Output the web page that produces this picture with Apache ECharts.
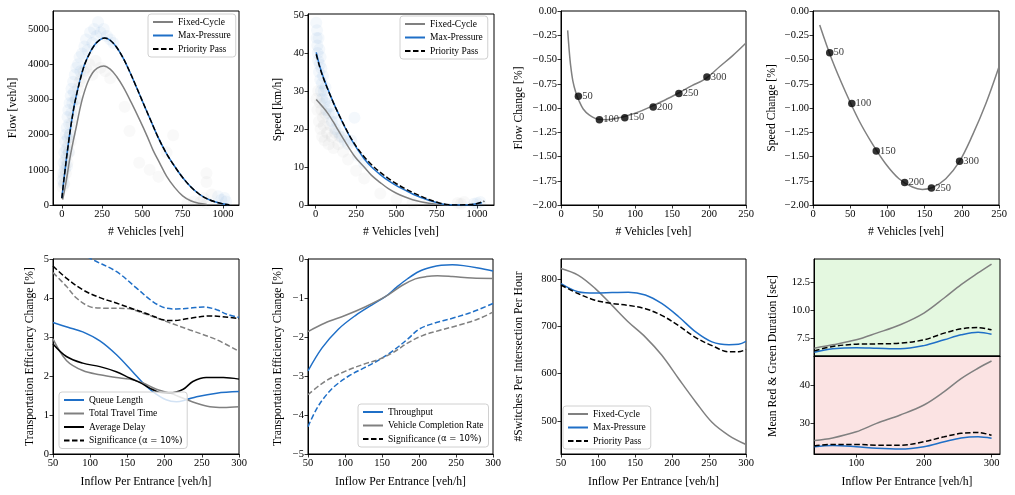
<!DOCTYPE html>
<html>
<head>
<meta charset="utf-8">
<script src="https://cdn.jsdelivr.net/npm/echarts@6/dist/echarts.min.js"></script>
<style>
html,body{margin:0;padding:0;background:#fff;}
#main{width:1015px;height:495px;}
</style>
</head>
<body>
<div id="main"></div>
<script>
// ---- flow vs vehicles ----
var flowFixed = [[5,150],[20,500],[35,900],[50,1330],[70,1800],[90,2230],[110,2680],[130,3060],[160,3480],[190,3750],[220,3890],[260,3950],[300,3860],[340,3650],[380,3360],[430,2920],[484,2410],[530,1950],[566,1560],[610,1170],[650,820],[700,500],[750,260],[800,120],[850,50],[900,15]];
var flowMax = [[0,200],[10,620],[20,1000],[30,1380],[45,1900],[60,2370],[80,2900],[110,3500],[140,3980],[172,4310],[200,4530],[235,4690],[265,4740],[300,4680],[340,4480],[380,4180],[420,3800],[460,3380],[500,2950],[550,2420],[600,1900],[650,1460],[700,1100],[750,780],[800,520],[850,320],[900,180],[950,90],[1000,35],[1035,5]];
var flowPriority = [[0,190],[10,610],[20,990],[30,1370],[45,1890],[60,2360],[80,2890],[110,3490],[140,3970],[172,4300],[200,4520],[235,4690],[265,4740],[300,4680],[340,4480],[380,4180],[420,3800],[460,3380],[500,2950],[550,2420],[600,1900],[650,1460],[700,1100],[750,780],[800,520],[850,320],[900,180],[950,90],[1000,35],[1040,5]];
var flowCloudMax = [[5,700],[8,900],[10,1200],[12,600],[15,1500],[18,1000],[20,1800],[22,1300],[25,2000],[28,1600],[30,2200],[32,1100],[35,2500],[38,1900],[40,2700],[42,1500],[45,2300],[48,2900],[50,2000],[55,3100],[58,2600],[60,3300],[65,2900],[70,3500],[75,3200],[80,3700],[85,3000],[90,3900],[100,4000],[110,4200],[115,3800],[125,4300],[140,4500],[150,4700],[160,4400],[175,4900],[190,4600],[200,5000],[215,4800],[225,5200],[240,4900],[260,5000],[280,4800],[300,4700],[320,4600],[970,250],[990,150],[1010,200],[1020,100]];
var flowCloudFixed = [[5,500],[10,800],[15,600],[20,1100],[25,900],[30,1400],[35,1200],[40,1700],[45,1500],[50,2000],[55,1800],[60,2300],[70,2500],[80,2800],[90,3000],[100,3300],[110,3500],[120,3600],[135,3800],[150,3900],[170,4000],[190,3700],[210,4100],[240,3900],[270,3800],[300,3600],[390,2790],[420,2100],[545,1000],[480,1200],[691,1980],[600,800],[650,1500],[780,50],[820,100],[860,80],[880,200],[900,50],[898,650],[898,900],[930,300]];

// ---- speed vs vehicles ----
var speedFixed = [[3,27.8],[40,26.0],[77,24.0],[110,21.8],[139,19.7],[180,16.8],[243,12.7],[300,10.0],[346,7.8],[400,5.9],[450,4.3],[500,3.1],[554,2.1],[600,1.4],[658,0.8],[710,0.4],[761,0.15],[824,0.0]];
var speedMax = [[3,40.2],[20,37.3],[40,34.5],[60,32.2],[80,30.0],[110,26.9],[140,24.1],[170,21.4],[200,18.9],[230,16.6],[263,14.4],[300,12.2],[346,10.0],[400,8.0],[450,6.4],[500,5.1],[554,3.9],[600,2.9],[658,1.9],[710,1.1],[761,0.5],[824,0.05],[900,0.0],[970,0.15],[1030,0.6]];
var speedPriority = [[3,39.7],[20,37.0],[40,34.3],[60,32.0],[80,29.9],[110,26.9],[140,24.1],[170,21.5],[200,19.0],[230,16.8],[263,14.7],[300,12.7],[346,10.6],[400,8.6],[450,7.0],[500,5.6],[554,4.3],[600,3.3],[658,2.2],[710,1.3],[761,0.6],[824,0.1],[880,0.0],[950,0.1],[1000,0.4],[1045,1.0]];
var speedCloudMax = [[3,48],[5,44],[8,46],[10,42],[12,40],[15,38],[18,44],[20,35],[22,41],[25,37],[28,33],[30,39],[32,30],[35,36],[38,32],[40,28],[45,34],[50,30],[55,27],[60,31],[65,25],[70,28],[80,24],[90,26],[100,22],[110,24],[120,20],[130,22],[140,19],[160,18],[180,17],[200,16],[220,17],[240,23],[260,13],[300,11],[980,0.3],[1000,0.5],[1020,0.8]];
var speedCloudFixed = [[5,28],[10,25],[15,30],[20,22],[25,27],[30,20],[35,25],[40,18],[45,23],[50,21],[55,17],[60,24],[70,19],[80,16],[90,21],[100,18],[110,15],[120,19],[140,16],[150,18],[170,14],[200,12],[250,9],[300,7],[400,3],[500,1.5],[600,0.5],[700,0.3],[880,0.5],[900,0.3],[920,0.8]];

// ---- relative change (labels = inflow per entrance) ----
var inflowLabels = ['50','100','150','200','250','300'];
var flowChangeCurve = [[9,-0.20],[11,-0.40],[13,-0.56],[16,-0.72],[20,-0.84],[24,-0.92],[30,-1.01],[38,-1.07],[50,-1.115],[62,-1.12],[75,-1.105],[87,-1.085],[105,-1.04],[123,-0.98],[140,-0.92],[159,-0.845],[177,-0.77],[195,-0.70],[215,-0.57],[232,-0.46],[250,-0.33]];
var flowChangePts = [[23.5,-0.88],[51.9,-1.12],[86.2,-1.10],[124.6,-0.99],[159.3,-0.85],[197.2,-0.68]];
var speedChangeCurve = [[9,-0.145],[25.6,-0.506],[43.6,-0.833],[61.6,-1.126],[79.6,-1.367],[97.6,-1.574],[115.6,-1.729],[133.6,-1.815],[147,-1.839],[160.5,-1.82],[178.5,-1.729],[196.5,-1.556],[214.4,-1.28],[232.4,-0.954],[250,-0.575]];
var speedChangePts = [[22.5,-0.43],[52.2,-0.954],[85,-1.443],[123.2,-1.767],[159.2,-1.825],[197,-1.55]];

// ---- transportation efficiency ----
var queueLength = [[50,3.37],[70,3.25],[90,3.13],[113,2.90],[135,2.55],[157,2.11],[171,1.82],[184,1.60],[202,1.39],[216,1.34],[229,1.39],[243,1.47],[270,1.56],[300,1.60]];
var travelTime = [[50,2.95],[68,2.40],[90,2.14],[113,2.03],[135,1.96],[153,1.92],[171,1.82],[189,1.66],[207,1.56],[225,1.43],[243,1.30],[261,1.21],[279,1.19],[300,1.21]];
var avgDelay = [[50,2.82],[68,2.50],[90,2.33],[113,2.24],[135,2.11],[153,1.95],[167,1.83],[180,1.69],[193,1.58],[207,1.56],[225,1.66],[238,1.86],[256,1.96],[279,1.96],[300,1.92]];
var sigQueue = [[50,5.6],[75,5.3],[101.6,5.0],[135,4.68],[162,4.26],[184,3.91],[202,3.74],[216,3.72],[234,3.74],[252,3.77],[270,3.70],[283,3.59],[300,3.50]];
var sigTravel = [[50,4.65],[68,4.30],[81.5,4.0],[99.3,3.78],[117,3.74],[149,3.73],[171,3.61],[202,3.40],[234,3.18],[270,2.93],[300,2.63]];
var sigDelay = [[50,4.82],[68,4.51],[90,4.21],[113,4.01],[135,3.87],[157.5,3.72],[180,3.57],[198,3.44],[211,3.42],[234,3.48],[260,3.54],[278,3.52],[300,3.47]];
var throughput = [[50,-2.87],[69,-2.28],[91,-1.80],[114,-1.45],[136,-1.18],[155,-0.96],[170,-0.72],[185,-0.50],[200,-0.32],[215,-0.22],[230,-0.16],[245,-0.15],[260,-0.17],[280,-0.23],[300,-0.31]];
var completion = [[50,-1.86],[73,-1.64],[100,-1.45],[127,-1.23],[155,-0.96],[177,-0.68],[195,-0.51],[210,-0.45],[225,-0.43],[245,-0.45],[272,-0.49],[300,-0.50]];
var sigThroughput = [[50,-4.30],[60,-3.90],[70,-3.60],[85,-3.28],[105,-3.00],[125,-2.80],[145,-2.60],[165,-2.35],[185,-2.05],[200,-1.80],[220,-1.65],[245,-1.52],[272,-1.36],[300,-1.14]];
var sigCompletion = [[50,-3.48],[73,-3.14],[100,-2.88],[125,-2.70],[145,-2.58],[165,-2.40],[185,-2.15],[204,-1.97],[226,-1.84],[253,-1.70],[280,-1.54],[300,-1.36]];

// ---- switches ----
var switchFixed = [[50,822],[73,808],[96,780],[119,744],[141,709],[164,677],[186,639],[209,589],[232,540],[254,497],[277,469],[300,450]];
var switchMax = [[50,790],[73,773],[96,770],[119,771],[141,772],[164,766],[186,748],[209,720],[232,688],[254,667],[277,661],[290,662],[300,668]];
var switchPriority = [[50,787],[73,769],[96,755],[119,748],[141,744],[164,737],[186,723],[209,701],[232,676],[254,659],[277,646],[290,646],[300,651]];

// ---- mean green / red durations ----
var durInflow = [38,65,100,130,165,200,230,255,280,300];
var greenFixed = [6.6,6.9,7.35,7.95,8.70,9.75,11.1,12.3,13.35,14.15];
var greenMax = [6.24,6.54,6.65,6.6,6.54,6.83,7.35,7.8,8.04,7.86];
var greenPriority = [6.36,6.75,6.96,6.99,7.05,7.35,7.95,8.34,8.45,8.25];
var redFixed = [25.5,26.2,27.8,30.0,32.2,34.8,38.3,41.7,44.4,46.3];
var redMax = [23.9,24.2,23.9,23.5,23.3,23.9,25.2,26.2,26.5,26.1];
var redPriority = [24.1,24.5,24.5,24.3,24.3,25.2,26.5,27.4,27.6,26.9];

var FONT = 'Liberation Serif';
var BLUE = '#1f6fc7', GRAY = '#808080', BLACK = '#000000';
var SIG = 'Significance (\u03b1 = 10%)';
var VEH = '# Vehicles [veh]', INFLOW = 'Inflow Per Entrance [veh/h]';

function plain(v){ return String(v); }
function fixed(d){
    return function(v){ return (v < 0 ? '\u2212' : '') + Math.abs(v).toFixed(d); };
}
function minus(v){ return (v < 0 ? '\u2212' : '') + Math.abs(v); }

function zip(xs, ys){
    var out = [];
    for(var i = 0; i < xs.length; i++){ out.push([xs[i], ys[i]]); }
    return out;
}

function grid(l, t, w, h, bg){
    return {left:l, top:t, width:w, height:h, show:true, borderColor:'#000', borderWidth:1, backgroundColor:bg || 'transparent'};
}

function axis(gi, min, max, ticks, fmt, name, gap){
    var a = {
        type:'value', gridIndex:gi, min:min, max:max,
        splitLine:{show:false},
        axisLine:{show:true, onZero:false, lineStyle:{color:'#000', width:1}},
        axisTick:{show:!!ticks, length:3.5, customValues:ticks || [], lineStyle:{color:'#000', width:0.8}},
        axisLabel:{show:!!ticks, customValues:ticks || [], formatter:fmt || plain, fontFamily:FONT, fontSize:10.5, color:'#000', margin:4}
    };
    if(name){
        a.name = name;
        a.nameLocation = 'middle';
        a.nameGap = gap;
        a.nameTextStyle = {fontFamily:FONT, fontSize:11.7, color:'#000'};
    }
    return a;
}

function line(name, data, color, dashed, ai){
    return {
        type:'line', name:name, data:data, xAxisIndex:ai, yAxisIndex:ai,
        symbol:'none', smooth:0.35, silent:true, z:3,
        lineStyle:{color:color, width:1.5, type:dashed ? [5.5, 2.5] : 'solid'},
        itemStyle:{color:color}
    };
}

function cloud(data, color, ai){
    return {type:'scatter', data:data, xAxisIndex:ai, yAxisIndex:ai, symbolSize:12, silent:true, z:1,
        itemStyle:{color:color, opacity:0.05}};
}

function dots(data, ai){
    return {
        type:'scatter', data:data, xAxisIndex:ai, yAxisIndex:ai, symbolSize:7.5, silent:true, z:4,
        itemStyle:{color:'#000'},
        label:{show:true, position:'right', distance:0, fontFamily:FONT, fontSize:10.5, color:'#000',
            formatter:function(p){ return inflowLabels[p.dataIndex]; }}
    };
}

function legendBox(names, left, top){
    return {
        data:names, left:left, top:top, orient:'vertical',
        itemWidth:20, itemHeight:10, itemGap:3.5, padding:[3,5,3,4],
        backgroundColor:'rgba(255,255,255,0.8)', borderColor:'#d0d0d0', borderWidth:1, borderRadius:3,
        selectedMode:false,
        itemStyle:{opacity:0, borderWidth:0},
        formatter:function(name){
            if(name === SIG){ return '{t|Significance (}{m|\u03b1 = 10%}{t|)}'; }
            return name;
        },
        textStyle:{fontFamily:FONT, fontSize:9.5, color:'#000',
            rich:{t:{fontFamily:FONT, fontSize:9.5, color:'#000'}, m:{fontFamily:'DejaVu Sans', fontSize:8.5, color:'#000'}}}
    };
}

var chart = echarts.init(document.getElementById('main'), null, {renderer:'canvas'});

var option = {
    animation:false,
    backgroundColor:'#fff',
    grid:[
        grid(53, 11, 186, 194),
        grid(308, 14, 186, 191),
        grid(561, 11, 185, 194),
        grid(813, 11, 186, 194),
        grid(53, 259, 186, 195),
        grid(308, 259, 185, 195),
        grid(561, 259, 185, 195),
        grid(814, 259, 186, 97, '#e4f8e0'),
        grid(814, 356, 186, 98, '#fbe3e3')
    ],
    xAxis:[
        axis(0, -55, 1100, [0,250,500,750,1000], plain, VEH, 21),
        axis(1, -48, 1105, [0,250,500,750,1000], plain, VEH, 21),
        axis(2, 0, 250, [0,50,100,150,200,250], plain, VEH, 21),
        axis(3, 0, 250, [0,50,100,150,200,250], plain, VEH, 21),
        axis(4, 50, 300, [50,100,150,200,250,300], plain, INFLOW, 22),
        axis(5, 50, 300, [50,100,150,200,250,300], plain, INFLOW, 22),
        axis(6, 50, 300, [50,100,150,200,250,300], plain, INFLOW, 22),
        axis(7, 37.5, 312.5, null),
        axis(8, 37.5, 312.5, [100,200,300], plain, INFLOW, 22)
    ],
    yAxis:[
        axis(0, 0, 5510, [0,1000,2000,3000,4000,5000], plain, 'Flow [veh/h]', 34),
        axis(1, 0, 50.3, [0,10,20,30,40,50], plain, 'Speed [km/h]', 24),
        axis(2, -2, 0, [-2,-1.75,-1.5,-1.25,-1,-0.75,-0.5,-0.25,0], fixed(2), 'Flow Change [%]', 36),
        axis(3, -2, 0, [-2,-1.75,-1.5,-1.25,-1,-0.75,-0.5,-0.25,0], fixed(2), 'Speed Change [%]', 35),
        axis(4, 0, 5, [0,1,2,3,4,5], plain, 'Transportation Efficiency Change [%]', 17),
        axis(5, -5, 0, [-5,-4,-3,-2,-1,0], minus, 'Transportation Efficiency Change [%]', 24),
        axis(6, 430, 842, [500,600,700,800], plain, '#Switches Per Intersection Per Hour', 36),
        axis(7, 5.9, 14.6, [7.5,10,12.5], fixed(1)),
        axis(8, 22, 47.6, [30,40], plain)
    ],
    legend:[
        legendBox(['Fixed-Cycle','Max-Pressure','Priority Pass'], 148, 14),
        legendBox(['Fixed-Cycle','Max-Pressure','Priority Pass'], 400, 16),
        legendBox(['Queue Length','Total Travel Time','Average Delay', SIG], 59, 392),
        legendBox(['Throughput','Vehicle Completion Rate', SIG], 358, 404),
        legendBox(['Fixed-Cycle','Max-Pressure','Priority Pass'], 563, 406)
    ],
    graphic:[
        {type:'text', x:773, y:356, rotation:Math.PI/2,
            style:{text:'Mean Red & Green Duration [sec]', fontFamily:FONT, fontSize:11.7, fill:'#000', align:'center', verticalAlign:'middle'}}
    ],
    series:[
        cloud(flowCloudFixed, GRAY, 0),
        cloud(flowCloudMax, BLUE, 0),
        line('Fixed-Cycle', flowFixed, GRAY, false, 0),
        line('Max-Pressure', flowMax, BLUE, false, 0),
        line('Priority Pass', flowPriority, BLACK, true, 0),

        cloud(speedCloudFixed, GRAY, 1),
        cloud(speedCloudMax, BLUE, 1),
        line('Fixed-Cycle', speedFixed, GRAY, false, 1),
        line('Max-Pressure', speedMax, BLUE, false, 1),
        line('Priority Pass', speedPriority, BLACK, true, 1),

        line('flowChange', flowChangeCurve, GRAY, false, 2),
        dots(flowChangePts, 2),
        line('speedChange', speedChangeCurve, GRAY, false, 3),
        dots(speedChangePts, 3),

        line('sigQueue', sigQueue, BLUE, true, 4),
        line('sigTravel', sigTravel, GRAY, true, 4),
        line(SIG, sigDelay, BLACK, true, 4),
        line('Queue Length', queueLength, BLUE, false, 4),
        line('Total Travel Time', travelTime, GRAY, false, 4),
        line('Average Delay', avgDelay, BLACK, false, 4),

        line('sigThroughput', sigThroughput, BLUE, true, 5),
        line('sigCompletion', sigCompletion, GRAY, true, 5),
        line('Throughput', throughput, BLUE, false, 5),
        line('Vehicle Completion Rate', completion, GRAY, false, 5),

        line('Fixed-Cycle', switchFixed, GRAY, false, 6),
        line('Max-Pressure', switchMax, BLUE, false, 6),
        line('Priority Pass', switchPriority, BLACK, true, 6),

        line('greenFixed', zip(durInflow, greenFixed), GRAY, false, 7),
        line('greenMax', zip(durInflow, greenMax), BLUE, false, 7),
        line('greenPriority', zip(durInflow, greenPriority), BLACK, true, 7),
        line('redFixed', zip(durInflow, redFixed), GRAY, false, 8),
        line('redMax', zip(durInflow, redMax), BLUE, false, 8),
        line('redPriority', zip(durInflow, redPriority), BLACK, true, 8)
    ]
};

chart.setOption(option);
</script>
</body>
</html>
